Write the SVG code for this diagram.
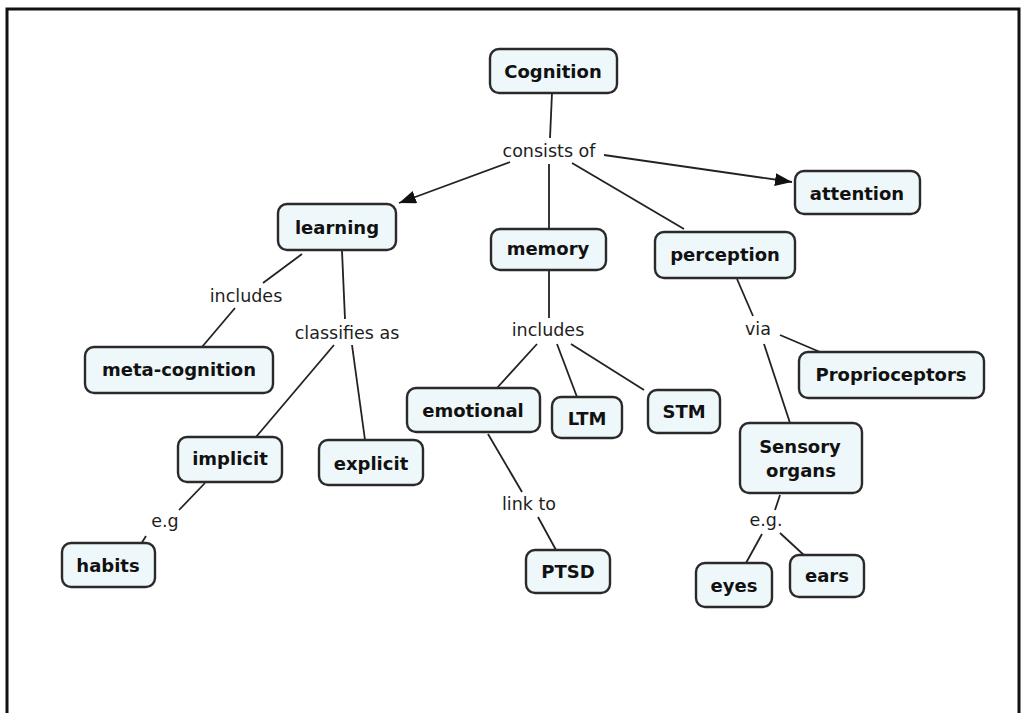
<svg xmlns="http://www.w3.org/2000/svg" width="1029" height="713" viewBox="0 0 1029 713">
<defs>
<style>
.n rect{fill:#eef7f9;stroke:#2a2a2a;stroke-width:2.4}
.n text{font-family:"DejaVu Sans",Verdana,sans-serif;font-weight:bold;font-size:18px;fill:#111;text-anchor:middle;dominant-baseline:central}
.lbl{font-family:"DejaVu Sans",Verdana,sans-serif;font-size:17.5px;fill:#1e1e1e;text-anchor:middle;dominant-baseline:central}
.c line{stroke:#222;stroke-width:1.8}
</style>
<marker id="ah" viewBox="0 0 17 13" refX="17" refY="6.5" markerWidth="17" markerHeight="13" markerUnits="userSpaceOnUse" orient="auto">
<path d="M0,0 L17,6.5 L0,13 Z" fill="#111"/>
</marker>
</defs>
<rect width="1029" height="713" fill="#fff"/>
<path d="M7,713 V9 H1019 V713" fill="none" stroke="#111" stroke-width="3"/>

<g id="connectors" class="c">
<line x1="552" y1="93" x2="550" y2="138"/>
<line x1="510" y1="162" x2="399" y2="203" marker-end="url(#ah)"/>
<line x1="549" y1="164" x2="549" y2="229"/>
<line x1="572" y1="163" x2="684" y2="229"/>
<line x1="604" y1="155" x2="792" y2="182" marker-end="url(#ah)"/>
<line x1="302" y1="254" x2="263" y2="283"/>
<line x1="235" y1="308" x2="202" y2="347"/>
<line x1="342" y1="251" x2="345" y2="319"/>
<line x1="334" y1="345" x2="256" y2="437"/>
<line x1="352" y1="345" x2="365" y2="440"/>
<line x1="549" y1="270" x2="549" y2="318"/>
<line x1="537" y1="344" x2="497" y2="388"/>
<line x1="557" y1="344" x2="577" y2="397"/>
<line x1="571" y1="344" x2="644" y2="390"/>
<line x1="488" y1="434" x2="522" y2="492"/>
<line x1="538" y1="517" x2="556" y2="550"/>
<line x1="737" y1="279" x2="753" y2="316"/>
<line x1="780" y1="335" x2="820" y2="352"/>
<line x1="764" y1="344" x2="790" y2="423"/>
<line x1="205" y1="483" x2="179" y2="510"/>
<line x1="146" y1="536" x2="141" y2="544"/>
<line x1="780" y1="495" x2="775" y2="510"/>
<line x1="762" y1="534" x2="746" y2="563"/>
<line x1="780" y1="533" x2="806" y2="557"/>
</g>

<g id="labels">
<text class="lbl" x="549" y="151">consists of</text>
<text class="lbl" x="246" y="296">includes</text>
<text class="lbl" x="347" y="333">classifies as</text>
<text class="lbl" x="548" y="330">includes</text>
<text class="lbl" x="758" y="329">via</text>
<text class="lbl" x="529" y="504">link to</text>
<text class="lbl" x="165" y="521">e.g</text>
<text class="lbl" x="766" y="520">e.g.</text>
</g>

<g id="cognition" class="n"><rect x="490" y="49" width="127" height="44" rx="9"/><text x="553" y="71">Cognition</text></g>
<g id="learning" class="n"><rect x="278" y="204" width="118" height="46" rx="9"/><text x="337" y="227">learning</text></g>
<g id="memory" class="n"><rect x="491" y="229" width="115" height="41" rx="9"/><text x="548" y="248">memory</text></g>
<g id="perception" class="n"><rect x="655" y="232" width="140" height="46" rx="9"/><text x="725" y="254">perception</text></g>
<g id="attention" class="n"><rect x="795" y="171" width="125" height="43" rx="9"/><text x="857" y="193">attention</text></g>
<g id="meta-cognition" class="n"><rect x="85" y="347" width="188" height="46" rx="9"/><text x="179" y="369">meta-cognition</text></g>
<g id="implicit" class="n"><rect x="178" y="437" width="104" height="45" rx="9"/><text x="230" y="458">implicit</text></g>
<g id="explicit" class="n"><rect x="319" y="440" width="104" height="45" rx="9"/><text x="371" y="463">explicit</text></g>
<g id="emotional" class="n"><rect x="407" y="388" width="133" height="44" rx="9"/><text x="473" y="410">emotional</text></g>
<g id="ltm" class="n"><rect x="552" y="397" width="70" height="41" rx="9"/><text x="587" y="418">LTM</text></g>
<g id="stm" class="n"><rect x="648" y="390" width="72" height="43" rx="9"/><text x="684" y="411">STM</text></g>
<g id="ptsd" class="n"><rect x="526" y="550" width="84" height="43" rx="9"/><text x="568" y="571">PTSD</text></g>
<g id="habits" class="n"><rect x="62" y="543" width="93" height="44" rx="9"/><text x="108" y="565">habits</text></g>
<g id="proprioceptors" class="n"><rect x="799" y="352" width="185" height="46" rx="9"/><text x="891" y="374">Proprioceptors</text></g>
<g id="sensory-organs" class="n"><rect x="740" y="423" width="122" height="70" rx="9"/><text x="800" y="446">Sensory</text><text x="801" y="470">organs</text></g>
<g id="eyes" class="n"><rect x="696" y="563" width="76" height="44" rx="9"/><text x="734" y="585">eyes</text></g>
<g id="ears" class="n"><rect x="790" y="555" width="74" height="42" rx="9"/><text x="827" y="575">ears</text></g>
</svg>
